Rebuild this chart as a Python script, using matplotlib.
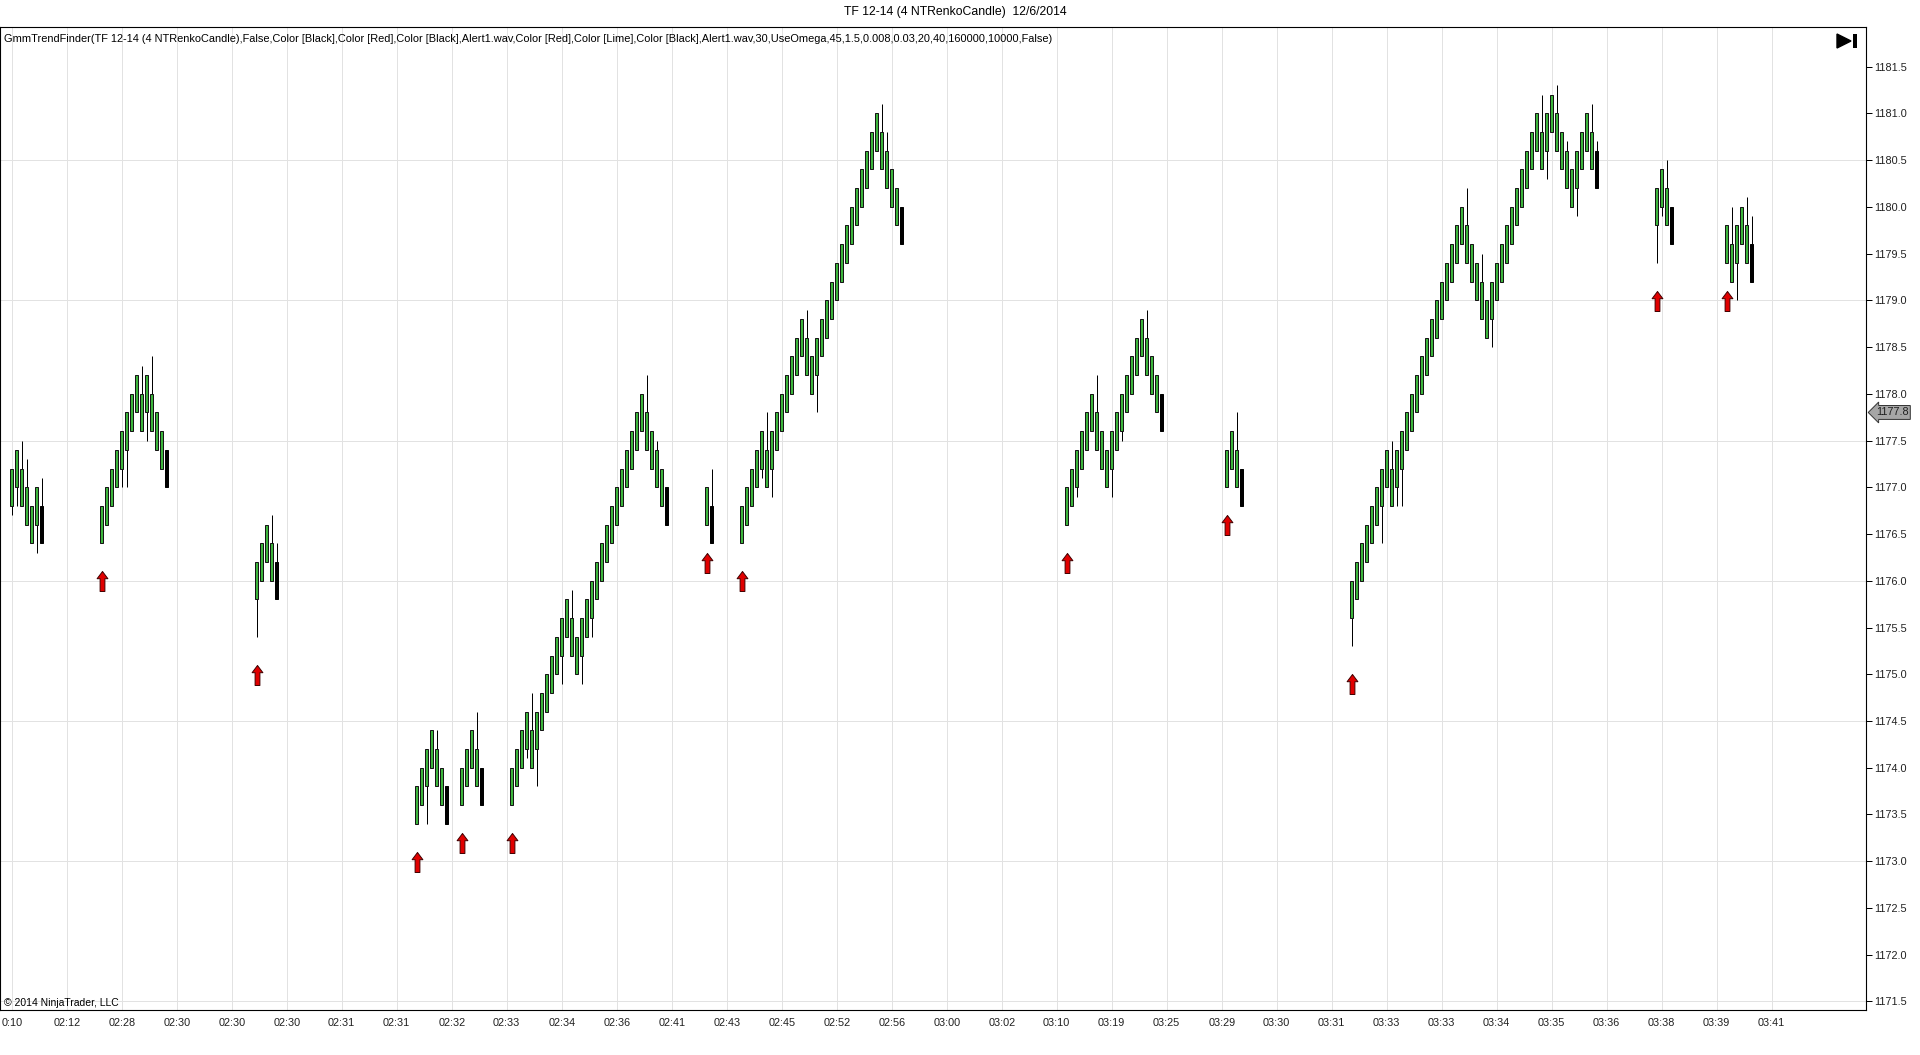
import numpy as np
import matplotlib
matplotlib.use('Agg')
import matplotlib.pyplot as plt
from matplotlib.path import Path
from matplotlib.markers import MarkerStyle
from matplotlib.patches import Polygon, Rectangle

plt.rcParams['font.family'] = ['Liberation Sans', 'DejaVu Sans']

# renko brick = 4 ticks of 0.1
BRICK = 0.4

# each visible run of bricks: first bar slot and the top of every body
seg_start = [0, 18, 49, 81, 90, 100, 139, 146, 211, 243, 268, 329, 343]
seg_tops = [
    [1177.2, 1177.4, 1177.2, 1177.0, 1176.8, 1177.0, 1176.8],
    [1176.8, 1177.0, 1177.2, 1177.4, 1177.6, 1177.8, 1178.0, 1178.2, 1178.0,
     1178.2, 1178.0, 1177.8, 1177.6, 1177.4],
    [1176.2, 1176.4, 1176.6, 1176.4, 1176.2],
    [1173.8, 1174.0, 1174.2, 1174.4, 1174.2, 1174.0, 1173.8],
    [1174.0, 1174.2, 1174.4, 1174.2, 1174.0],
    [1174.0, 1174.2, 1174.4, 1174.6, 1174.4, 1174.6, 1174.8, 1175.0, 1175.2,
     1175.4, 1175.6, 1175.8, 1175.6, 1175.4, 1175.6, 1175.8, 1176.0, 1176.2,
     1176.4, 1176.6, 1176.8, 1177.0, 1177.2, 1177.4, 1177.6, 1177.8, 1178.0,
     1177.8, 1177.6, 1177.4, 1177.2, 1177.0],
    [1177.0, 1176.8],
    [1176.8, 1177.0, 1177.2, 1177.4, 1177.6, 1177.4, 1177.6, 1177.8, 1178.0,
     1178.2, 1178.4, 1178.6, 1178.8, 1178.6, 1178.4, 1178.6, 1178.8, 1179.0,
     1179.2, 1179.4, 1179.6, 1179.8, 1180.0, 1180.2, 1180.4, 1180.6, 1180.8,
     1181.0, 1180.8, 1180.6, 1180.4, 1180.2, 1180.0],
    [1177.0, 1177.2, 1177.4, 1177.6, 1177.8, 1178.0, 1177.8, 1177.6, 1177.4,
     1177.6, 1177.8, 1178.0, 1178.2, 1178.4, 1178.6, 1178.8, 1178.6, 1178.4,
     1178.2, 1178.0],
    [1177.4, 1177.6, 1177.4, 1177.2],
    [1176.0, 1176.2, 1176.4, 1176.6, 1176.8, 1177.0, 1177.2, 1177.4, 1177.2,
     1177.4, 1177.6, 1177.8, 1178.0, 1178.2, 1178.4, 1178.6, 1178.8, 1179.0,
     1179.2, 1179.4, 1179.6, 1179.8, 1180.0, 1179.8, 1179.6, 1179.4, 1179.2,
     1179.0, 1179.2, 1179.4, 1179.6, 1179.8, 1180.0, 1180.2, 1180.4, 1180.6,
     1180.8, 1181.0, 1180.8, 1181.0, 1181.2, 1181.0, 1180.8, 1180.6, 1180.4,
     1180.6, 1180.8, 1181.0, 1180.8, 1180.6],
    [1180.2, 1180.4, 1180.2, 1180.0],
    [1179.8, 1179.6, 1179.8, 1180.0, 1179.8, 1179.6],
]

# wicks that stick out of the body
wick_high = {2: 1177.5, 3: 1177.3, 6: 1177.1, 26: 1178.3, 28: 1178.4,
             52: 1176.7, 53: 1176.4, 85: 1174.4, 93: 1174.6,
             104: 1174.8, 112: 1175.9, 127: 1178.2, 129: 1177.5, 140: 1177.2,
             151: 1177.8, 159: 1178.9, 174: 1181.1, 175: 1180.8,
             217: 1178.2, 227: 1178.9, 245: 1177.8,
             276: 1177.5, 291: 1180.2, 294: 1179.5, 306: 1181.2, 309: 1181.3,
             311: 1180.7, 316: 1181.1, 317: 1180.7,
             331: 1180.5, 344: 1180.0, 347: 1180.1, 348: 1179.9}
wick_low = {0: 1176.7, 1: 1176.8, 5: 1176.3, 22: 1177.0, 23: 1177.0, 27: 1177.5,
            49: 1175.4, 83: 1173.4,
            103: 1174.1, 105: 1173.8, 110: 1174.9, 114: 1174.9, 116: 1175.4,
            150: 1177.1, 152: 1176.9, 161: 1177.8,
            213: 1176.9, 220: 1176.9, 222: 1177.5,
            268: 1175.3, 274: 1176.4, 277: 1176.8, 278: 1176.8, 296: 1178.5,
            307: 1180.3, 313: 1179.9,
            329: 1179.4, 330: 1179.9, 345: 1179.0}

# red up arrows (bar slot, price of the arrow tip)
arrow_bar = [18, 49, 81, 90, 100, 139, 146, 211, 243, 268, 329, 343]
arrow_price = [1176.1, 1175.1, 1173.1, 1173.3, 1173.3, 1176.3, 1176.1,
               1176.3, 1176.7, 1175.0, 1179.1, 1179.1]

time_labels = ['0:10', '02:12', '02:28', '02:30', '02:30', '02:30', '02:31',
               '02:31', '02:32', '02:33', '02:34', '02:36', '02:41', '02:43',
               '02:45', '02:52', '02:56', '03:00', '03:02', '03:10', '03:19',
               '03:25', '03:29', '03:30', '03:31', '03:33', '03:33', '03:34',
               '03:35', '03:36', '03:38', '03:39', '03:41']
label_every = 11
price_ticks = np.arange(1171.5, 1181.51, 0.5)
grid_levels = np.arange(1171.5, 1181.51, 1.5)
last_price = 1177.8

title = 'TF 12-14 (4 NTRenkoCandle)  12/6/2014'
indicator = ('GmmTrendFinder(TF 12-14 (4 NTRenkoCandle),False,Color [Black],Color [Red],'
             'Color [Black],Alert1.wav,Color [Red],Color [Lime],Color [Black],Alert1.wav,'
             '30,UseOmega,45,1.5,0.008,0.03,20,40,160000,10000,False)')

# flatten the runs into bars
idx, top, hi, lo, last = [], [], [], [], []
for s, tops in zip(seg_start, seg_tops):
    for i, t in enumerate(tops):
        n = s + i
        idx.append(n)
        top.append(t)
        hi.append(wick_high.get(n, t))
        lo.append(wick_low.get(n, t - BRICK))
        last.append(i == len(tops) - 1)
idx = np.array(idx)
top = np.array(top)
hi = np.array(hi)
lo = np.array(lo)
last = np.array(last)

W, H = 1920, 1055
PX = 0.72  # one pixel in points


def fx(x):
    return x / W


def fy(y):
    return 1 - y / H


fig = plt.figure(figsize=(W / 100, H / 100), dpi=100)
ax = fig.add_axes([0, fy(1010), fx(1866), (1010 - 26.7) / H])
ax.set_xlim(-2.34, 370.86)
ax.set_ylim(1171.409, 1181.926)

ax.set_xticks(np.arange(len(time_labels)) * label_every)
ax.set_xticklabels(time_labels)
ax.grid(axis='x', color='#e2e2e2', lw=PX, zorder=0)
for lvl in grid_levels:
    ax.axhline(lvl, color='#e2e2e2', lw=PX, zorder=0)

ax.yaxis.tick_right()
ax.set_yticks(price_ticks)
ax.set_yticklabels(['%.1f' % v for v in price_ticks])
ax.tick_params(axis='y', length=4.5, width=PX, pad=1.5, labelsize=7.8,
               labelcolor='#202020')
ax.tick_params(axis='x', length=0, pad=5.5, labelsize=7.8, labelcolor='#202020')
for sp in ax.spines.values():
    sp.set_color('black')
    sp.set_linewidth(0.8)

ax.vlines(idx, lo, hi, color='black', lw=PX, zorder=2)
g = ~last
ax.bar(idx[g], BRICK, bottom=top[g] - BRICK, width=0.66, color='#3cb43c',
       edgecolor='#151515', linewidth=PX, zorder=3)
ax.bar(idx[last], BRICK, bottom=top[last] - BRICK, width=0.66, color='black',
       edgecolor='black', linewidth=PX, zorder=3)

arrow = Path([(0, 0), (0.27, -0.36), (0.12, -0.36), (0.12, -1), (-0.12, -1),
              (-0.12, -0.36), (-0.27, -0.36), (0, 0)])
ax.plot(arrow_bar, arrow_price, ls='none', marker=MarkerStyle(arrow), ms=28.8,
        mfc='#e00000', mec='#400000', mew=0.7, zorder=4)

ax.annotate('%.1f' % last_price, xy=(1, last_price),
            xycoords=('axes fraction', 'data'), xytext=(7, 0),
            textcoords='offset points', ha='left', va='center', fontsize=7.8,
            color='#202020',
            bbox=dict(boxstyle='larrow,pad=0.18', fc='#a6a6a6', ec='#333333', lw=0.7))

# texts
fig.text(fx(955), fy(12), title, ha='center', va='center', fontsize=8.8)
fig.text(fx(4), fy(39), indicator, ha='left', va='center', fontsize=7.9)
fig.text(fx(4), fy(1003), '\u00a9 2014 NinjaTrader, LLC', ha='left',
         va='center', fontsize=7.5)

# go-to-end icon
fig.add_artist(Polygon([(fx(1837), fy(34)), (fx(1851), fy(41)), (fx(1837), fy(48))],
                       closed=True, transform=fig.transFigure, fc='black', ec='black'))
fig.add_artist(Rectangle((fx(1853), fy(48)), fx(4), 14 / H,
                         transform=fig.transFigure, fc='black', ec='none'))

fig.savefig('out.png', dpi=100)
